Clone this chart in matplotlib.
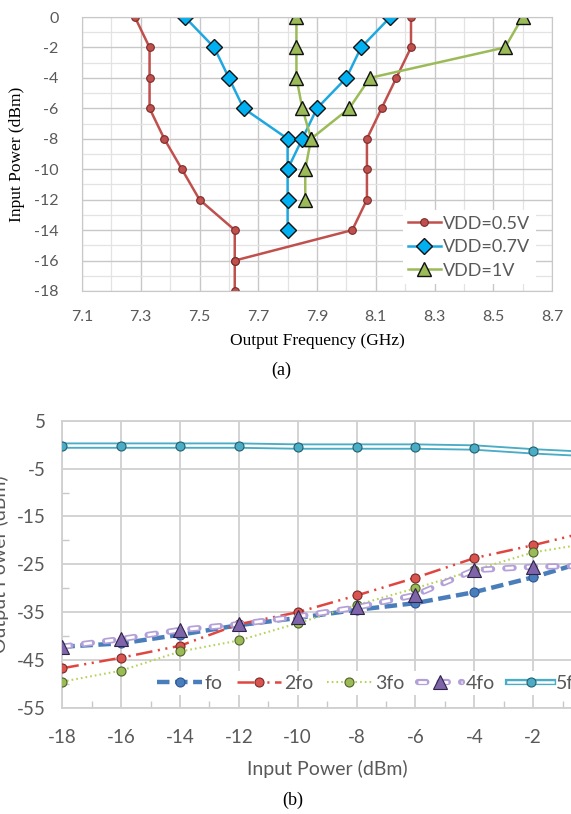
import matplotlib
matplotlib.use("Agg")
import matplotlib.pyplot as plt
import numpy as np
from matplotlib.legend_handler import HandlerTuple

plt.rcParams['lines.scale_dashes'] = False
plt.rcParams['axes.unicode_minus'] = False
plt.rcParams['font.family'] = ['Lato', 'DejaVu Sans']

# (a) output frequency vs input power, two sweep branches per supply
pin_a = [0, -2, -4, -6, -8, -10, -12, -14, -16, -18]
f05_left = [7.28, 7.33, 7.33, 7.33, 7.38, 7.44, 7.50, 7.62, 7.62, 7.62]
f05_right = [8.22, 8.22, 8.17, 8.12, 8.07, 8.07, 8.07, 8.02, 7.62]
f07_left = [7.45, 7.55, 7.60, 7.65, 7.80, 7.80, 7.80, 7.80]
f07_right = [8.15, 8.05, 8.00, 7.90, 7.85, 7.80]
f1_left = [7.83, 7.83, 7.83, 7.85, 7.88, 7.86, 7.86]
f1_right = [8.60, 8.54, 8.08, 8.01, 7.88]

# (b) output power of harmonics vs input power
pin_b = [-18, -16, -14, -12, -10, -8, -6, -4, -2, 0]
p_fo = [-42.2, -41.5, -39.7, -37.7, -36.2, -34.5, -33.1, -30.8, -27.7, -24.0]
p_2fo = [-46.7, -44.5, -42.0, -37.5, -35.0, -31.5, -27.8, -23.7, -21.0, -18.0]
p_3fo = [-49.5, -47.2, -43.2, -40.9, -37.3, -33.5, -30.0, -26.2, -22.5, -20.5]
p_4fo = [-42.2, -40.6, -38.7, -37.5, -35.9, -34.0, -31.4, -26.2, -25.5, -25.3]
p_5fo = [-0.2, -0.2, -0.2, -0.2, -0.4, -0.4, -0.4, -0.6, -1.4, -2.0]

txt = '#595959'
W, H = 571, 814
fig = plt.figure(figsize=(W / 100, H / 100), dpi=100)

# ---------- (a) ----------
ax1 = fig.add_axes([82 / W, 1 - 291 / H, (552 - 82) / W, (291 - 17) / H])
red, blue, green = '#C0504D', '#1FA8E0', '#9BBB59'
kw05 = dict(color=red, lw=1.8, marker='o', ms=5.5, mfc=red, mec='#7A2A28', mew=0.8)
kw07 = dict(color=blue, lw=1.8, marker='D', ms=8.5, mfc='#00B0F0', mec='#111111', mew=1.0)
kw1 = dict(color=green, lw=1.8, marker='^', ms=9.5, mfc=green, mec='#111111', mew=1.0)
l05, = ax1.plot(f05_left, pin_a[:len(f05_left)], label='VDD=0.5V', **kw05)
ax1.plot(f05_right, pin_a[:len(f05_right)], **kw05)
l07, = ax1.plot(f07_left, pin_a[:len(f07_left)], label='VDD=0.7V', **kw07)
ax1.plot(f07_right, pin_a[:len(f07_right)], **kw07)
l1, = ax1.plot(f1_left, pin_a[:len(f1_left)], label='VDD=1V', **kw1)
ax1.plot(f1_right, pin_a[:len(f1_right)], **kw1)

ax1.set_xlim(7.1, 8.7)
ax1.set_ylim(-18, 0)
ax1.set_xticks(np.round(np.arange(7.1, 8.71, 0.2), 1))
ax1.set_xticks(np.round(np.arange(7.2, 8.61, 0.2), 1), minor=True)
ax1.set_yticks(range(-18, 1, 2))
ax1.set_yticks(range(-17, 0, 2), minor=True)
ax1.grid(True, which='major', color='#C8C8C8', lw=1.0)
ax1.grid(True, which='minor', color='#E3E3E3', lw=0.9)
ax1.set_axisbelow(True)
for s in ax1.spines.values():
    s.set_color('#C8C8C8')
ax1.tick_params(which='both', length=0, labelsize=11.5, labelcolor=txt)
ax1.tick_params(axis='x', pad=14)
ax1.tick_params(axis='y', pad=17)
ax1.set_xlabel('Output Frequency (GHz)', family='Liberation Serif', fontsize=12.5, color='black', labelpad=6)
ax1.set_ylabel('Input Power (dBm)', family='Liberation Serif', fontsize=12.5, color='black')
ax1.yaxis.set_label_coords(-0.121, 0.5)
ax1.legend(handles=[l05, l07, l1], loc='lower right', bbox_to_anchor=(0.985, -0.008),
           fontsize=13, handlelength=1.8, handletextpad=0.15, labelspacing=0.42,
           frameon=True, facecolor='white', edgecolor='none', framealpha=1,
           borderpad=0.3, labelcolor=txt)
fig.text(281 / W, 1 - 370 / H, '(a)', family='Liberation Serif', fontsize=13, ha='center', va='center')

# ---------- (b) ----------
ax2 = fig.add_axes([62.3 / W, 1 - 708 / H, (592 - 62.3) / W, (708 - 420.7) / H])
c_fo, c_2fo, c_3fo, c_4fo, c_5fo = '#4A7EBB', '#E0463F', '#B5D35A', '#B4A0D8', '#4BACC6'

h_fo, = ax2.plot(pin_b, p_fo, color=c_fo, lw=3.2, dashes=(9, 4), marker='o', ms=6.5,
                 mfc=c_fo, mec='#2F5597', mew=0.8, zorder=3)
h_2fo, = ax2.plot(pin_b, p_2fo, color=c_2fo, lw=1.8, dashes=(12, 4, 1.5, 4, 1.5, 4), marker='o', ms=6.5,
                  mfc='#D9534F', mec='#7A2A28', mew=0.8, zorder=3)
h_3fo, = ax2.plot(pin_b, p_3fo, color=c_3fo, lw=1.5, dashes=(1.2, 2.2), marker='o', ms=6.5,
                  mfc='#9BBB59', mec='#4F6125', mew=0.8, zorder=3)
o4, = ax2.plot(pin_b, p_4fo, color=c_4fo, lw=4.5, dashes=(6, 9.5), dash_capstyle='round', zorder=4)
i4, = ax2.plot(pin_b, p_4fo, color='white', lw=2.0, dashes=(6, 9.5), zorder=4)
m4, = ax2.plot(pin_b, p_4fo, ls='none', marker='^', ms=10, mfc='#7E64A8', mec='#2E2348', mew=0.8, zorder=5)
o5, = ax2.plot(pin_b, p_5fo, color=c_5fo, lw=4.5, zorder=4)
i5, = ax2.plot(pin_b, p_5fo, color='white', lw=1.8, zorder=4)
m5, = ax2.plot(pin_b, p_5fo, ls='none', marker='o', ms=6.5, mfc=c_5fo, mec='#23606E', mew=0.8, zorder=5)

ax2.set_xlim(-18, 0)
ax2.set_ylim(-55, 5)
ax2.set_xticks(range(-18, 1, 2))
ax2.set_xticks(range(-17, 0, 2), minor=True)
ax2.set_yticks(range(-55, 6, 10))
ax2.set_yticks(range(-50, 1, 10), minor=True)
ax2.grid(True, which='major', color='#D0D0D0', lw=1.3)
ax2.set_axisbelow(True)
for s in ax2.spines.values():
    s.set_color('#D0D0D0')
    s.set_linewidth(1.3)
ax2.tick_params(which='major', length=0, labelsize=13.5, labelcolor=txt)
ax2.tick_params(axis='x', which='major', pad=15)
ax2.tick_params(axis='y', which='major', pad=12)
ax2.tick_params(which='minor', direction='in', length=5, color='#C8C8C8', width=1.0)
ax2.set_xlabel('Input Power (dBm)', fontsize=14, color=txt, labelpad=10)
ax2.set_ylabel('Output Power (dBm)', fontsize=14, color=txt)
ax2.yaxis.set_label_coords(-0.1, 0.5)

ax2.legend(handles=[h_fo, h_2fo, h_3fo, (o4, i4, m4), (o5, i5, m5)],
           labels=['fo', '2fo', '3fo', '4fo', '5fo'],
           handler_map={tuple: HandlerTuple(ndivide=1, pad=0)},
           loc='center left', bbox_to_anchor=(0.172, 0.087), ncol=5, fontsize=14,
           handlelength=2.3, handletextpad=0.15, columnspacing=0.7,
           frameon=True, facecolor='white', edgecolor='none', framealpha=1,
           borderpad=0.2, borderaxespad=0.0, labelcolor=txt)
fig.text(293 / W, 1 - 800 / H, '(b)', family='Liberation Serif', fontsize=13, ha='center', va='center')

fig.savefig('out.png', dpi=100)
